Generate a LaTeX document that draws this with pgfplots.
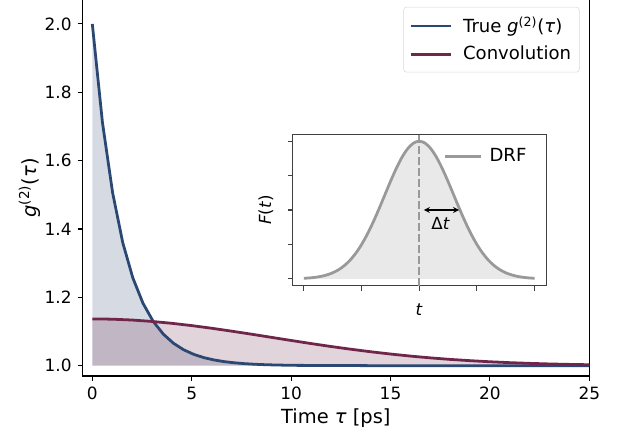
\documentclass[border=0pt,12pt]{standalone}
\usepackage{pgfplots}
\pgfplotsset{compat=1.18}
\usepgfplotslibrary{fillbetween}
\usepackage{fontspec}
\setmainfont{DejaVu Sans}

\definecolor{truecol}{RGB}{43,72,115}
\definecolor{convcol}{RGB}{112,38,74}
\definecolor{drfcol}{RGB}{153,153,153}

% true g2, sampled every 25/49 ps
\pgfplotstableread{
tau g
0.0000 2.0000
0.5102 1.7117
1.0204 1.5065
1.5306 1.3604
2.0408 1.2565
2.5510 1.1826
3.0612 1.1299
3.5714 1.0925
4.0816 1.0658
4.5918 1.0468
5.1020 1.0333
5.6122 1.0237
6.1224 1.0169
6.6327 1.0120
7.1429 1.0086
7.6531 1.0061
8.1633 1.0043
8.6735 1.0031
9.1837 1.0022
9.6939 1.0016
10.2041 1.0011
15.0000 1.0000
20.0000 1.0000
25.0000 1.0000
}\truedata

% convolution with the detector response
\pgfplotstableread{
tau g
0 1.1370
1 1.1362
2 1.1337
3 1.1296
4 1.1241
5 1.1174
6 1.1097
7 1.1012
8 1.0923
9 1.0831
10 1.0739
11 1.0649
12 1.0563
13 1.0483
14 1.0409
15 1.0342
16 1.0282
17 1.0230
18 1.0185
19 1.0148
20 1.0116
21 1.0090
22 1.0069
23 1.0052
24 1.0039
25 1.0029
}\convdata

% detector response function
\pgfplotstableread{
t F
-2.0 0.0039
-1.9 0.0066
-1.8 0.0111
-1.7 0.0181
-1.6 0.0286
-1.5 0.0439
-1.4 0.0657
-1.3 0.0956
-1.2 0.1353
-1.1 0.1863
-1.0 0.2494
-0.9 0.3247
-0.8 0.4111
-0.7 0.5063
-0.6 0.6065
-0.5 0.7066
-0.4 0.8007
-0.3 0.8825
-0.2 0.9460
-0.1 0.9862
0.0 1.0000
0.1 0.9862
0.2 0.9460
0.3 0.8825
0.4 0.8007
0.5 0.7066
0.6 0.6065
0.7 0.5063
0.8 0.4111
0.9 0.3247
1.0 0.2494
1.1 0.1863
1.2 0.1353
1.3 0.0956
1.4 0.0657
1.5 0.0439
1.6 0.0286
1.7 0.0181
1.8 0.0111
1.9 0.0066
2.0 0.0039
}\drfdata

\pgfplotsset{
  every tick label/.append style={font=\fontsize{12.2}{14}\selectfont},
  /pgf/number format/assume math mode=true,
  tick align=outside,
  major tick length=3.5pt,
  every tick/.style={black, line width=0.8pt},
  axis line style={line width=0.8pt},
}

\begin{document}
\begin{tikzpicture}[font=\fontsize{12}{14}\selectfont]

\begin{axis}[
  at={(0pt,0pt)}, anchor=south west,
  scale only axis,
  width=365pt, height=270.7pt,
  xmin=-0.5, xmax=25,
  ymin=0.97, ymax=2.07,
  axis x line*=bottom,
  axis y line*=box,
  ytick pos=left,
  xtick={0,5,10,15,20,25},
  ytick={1.0,1.2,1.4,1.6,1.8,2.0},
  yticklabel style={/pgf/number format/.cd, fixed, fixed zerofill, precision=1},
  every axis x label/.style={at={(axis description cs:0.5,0)}, yshift=-30pt, anchor=center,
    font=\fontsize{14}{16}\selectfont},
  every axis y label/.style={at={(axis description cs:0,0.5)}, xshift=-38pt, rotate=90, anchor=center,
    font=\fontsize{14}{16}\selectfont},
  xlabel={Time \textit{τ} [ps]},
  ylabel={\textit{g}\textsuperscript{(2)}(\textit{τ})},
  legend style={at={(1,1)}, anchor=north east, xshift=-7pt, yshift=-5pt,
    draw=black!15, rounded corners=2pt, fill=white,
    font=\fontsize{13}{15}\selectfont, inner xsep=4pt, inner ysep=5pt,
    row sep=4pt, cells={anchor=west},
    /tikz/every odd column/.append style={column sep=6pt}},
  legend image code/.code={\draw[#1, line width=2pt] (0pt,0pt) -- (28.8pt,0pt);},
]
\addplot[name path=base, draw=none, forget plot] coordinates {(0,1) (25,1)};
\addplot[name path=truep, draw=none, forget plot] table[x=tau, y=g] {\truedata};
\addplot[name path=convp, draw=none, forget plot] table[x=tau, y=g] {\convdata};
\addplot[fill=truecol, fill opacity=0.2, draw=none, forget plot] fill between[of=truep and base];
\addplot[fill=convcol, fill opacity=0.2, draw=none, forget plot] fill between[of=convp and base];

\addplot[truecol, line width=2pt] table[x=tau, y=g] {\truedata};
\addlegendentry{True \textit{g}\textsuperscript{(2)}(\textit{τ})}
\addplot[convcol, line width=2pt] table[x=tau, y=g] {\convdata};
\addlegendentry{Convolution}
\end{axis}

\begin{axis}[
  at={(151.2pt,65pt)}, anchor=south west,
  scale only axis,
  width=182.7pt, height=109pt,
  xmin=-2.2, xmax=2.2,
  ymin=-0.05, ymax=1.05,
  xtick={-2,-1,0,1,2},
  ytick={0,0.25,0.5,0.75,1},
  xticklabels={}, yticklabels={},
  xtick pos=bottom, ytick pos=left,
  axis line style={black!75, line width=0.8pt},
  every tick/.style={black!75, line width=0.8pt},
  every axis x label/.style={at={(axis description cs:0.5,0)}, yshift=-17.5pt, anchor=center},
  every axis y label/.style={at={(axis description cs:0,0.5)}, xshift=-19pt, rotate=90, anchor=center},
  xlabel={\textit{t}},
  ylabel={\textit{F}(\textit{t})},
  legend style={at={(1,1)}, anchor=north east, xshift=-9pt, yshift=-6pt,
    draw=none, fill=none, font=\fontsize{13}{15}\selectfont,
    /tikz/every odd column/.append style={column sep=3pt}},
  legend image code/.code={\draw[#1, line width=2pt] (0pt,0pt) -- (26pt,0pt);},
]
\addplot[fill=drfcol, fill opacity=0.22, draw=none, forget plot] table[x=t, y=F] {\drfdata} \closedcycle;
\addplot[drfcol, line width=2pt, smooth] table[x=t, y=F] {\drfdata};
\addlegendentry{DRF}
\addplot[drfcol, line width=1.5pt, dash pattern=on 5.5pt off 2.4pt, forget plot] coordinates {(0,-0.05) (0,1.05)};
\draw[<->, >=stealth, line width=0.9pt] (axis cs:0.08,0.5) -- (axis cs:0.69,0.5);
\node at (axis cs:0.37,0.40) {Δ\textit{t}};
\end{axis}

\pgfresetboundingbox
\useasboundingbox (-59.3pt,-41.8pt) rectangle (387.8pt,270.7pt);
\end{tikzpicture}
\end{document}
